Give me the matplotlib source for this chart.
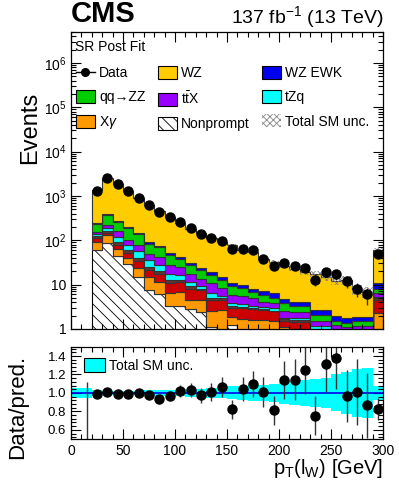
import numpy as np
import matplotlib
matplotlib.use('Agg')
import matplotlib.pyplot as plt
from matplotlib.lines import Line2D
from matplotlib.patches import Patch
from matplotlib.ticker import MultipleLocator, LogLocator, FuncFormatter, NullFormatter, FixedLocator

plt.rcParams['font.family'] = ['Liberation Sans', 'DejaVu Sans']
plt.rcParams['mathtext.fontset'] = 'custom'
plt.rcParams['mathtext.rm'] = 'Liberation Sans'
plt.rcParams['mathtext.it'] = 'Liberation Sans:italic'
plt.rcParams['mathtext.bf'] = 'Liberation Sans:bold'
plt.rcParams['hatch.linewidth'] = 0.6

# bins of pT(l_W), 10 GeV wide, last bin includes overflow
edges = np.arange(20, 310, 10)
band_edges = np.arange(0, 310, 10)
centers = edges[:-1] + 5

data = [1309, 2510, 1850, 1260, 898, 612, 427, 330, 255, 187, 140, 114, 96, 64,
        64, 61, 38, 26, 30, 26, 24, 13, 19, 17, 12, 8, 6, 50]

nonprompt = [61, 86, 44, 28.7, 14.9, 7.7, 6.0, 3.3, 3.3, 2.76, 2.4, 1.1, 0.5, 1.23,
             0.3, 0.3, 0.3, 0.2, 0.2, 0.1, 0.1, 0.1, 0.1, 0.05, 0.05, 0.05, 0.05, 0.3]
xgamma = [30, 42, 20, 11.3, 9.1, 7.2, 5.5, 3.2, 3.6, 1.84, 2.07, 1.4, 2.17, 0.67,
          1.35, 1.32, 1.29, 1.34, 0.9, 0.8, 0.8, 0.4, 0.4, 0.35, 0.25, 0.3, 0.3, 2.0]
other = [19, 17, 15, 12, 10, 6.9, 6.2, 4.5, 4.6, 3.5, 3.0, 2.1, 1.73, 1.0,
         1.25, 1.18, 1.08, 0.96, 0.4, 0.56, 0.56, 0.4, 0.4, 0.3, 0.3, 0.3, 0.3, 2.3]
other2 = [12, 15, 12, 7, 6, 3.2, 2.3, 1.6, 1.1, 1.1, 0.4, 0.5, 0.5, 0.4,
          0.2, 0.2, 0.13, 0.1, 0.15, 0.14, 0.14, 0.1, 0.1, 0.1, 0.1, 0.1, 0.1, 0.3]
tzq = [18, 30, 27, 20, 17, 10, 8, 4.5, 3.7, 2.3, 1.3, 1.5, 0.6, 0.46,
       0.5, 0.3, 0.26, 0.3, 0.15, 0.17, 0.17, 0.15, 0.15, 0.1, 0.1, 0.1, 0.1, 0.4]
ttx = [17, 36, 42, 23, 22, 15, 14, 9.9, 8.7, 5.6, 4.5, 4.0, 2.7, 2.04,
       1.9, 1.8, 1.04, 1.0, 0.7, 0.63, 0.63, 0.39, 0.39, 0.33, 0.29, 0.34, 0.32, 1.0]
zz = [77, 153, 95, 88, 56, 33, 28, 18.6, 12.8, 10.1, 7.3, 5.9, 4.3, 3.4,
      2.7, 1.7, 1.7, 1.1, 1.3, 0.85, 0.85, 0.52, 0.52, 0.31, 0.25, 0.35, 0.37, 1.5]
wzewk = [17, 19, 14, 14, 10, 8, 6, 5.0, 4.0, 3.5, 3.0, 3.0, 2.1, 1.4,
         1.5, 1.2, 1.3, 1.3, 0.9, 0.75, 0.75, 0.61, 0.61, 0.46, 0.4, 0.29, 0.29, 3.1]
wz = [1078, 2087, 1600, 1069, 753, 533, 383, 289, 208, 151, 120, 93.5, 75.4, 67.1,
      51.7, 47.6, 30.6, 25.7, 21.6, 18.7, 15.3, 14.6, 11.8, 10.3, 10.7, 6.1, 5.1, 49.8]

# relative total SM uncertainty per bin, 0-300 GeV
unc_rel = [0.05, 0.05, 0.03, 0.025, 0.025, 0.025, 0.025, 0.03, 0.03, 0.03,
           0.035, 0.04, 0.045, 0.05, 0.055, 0.07, 0.08, 0.09, 0.09, 0.10,
           0.12, 0.13, 0.14, 0.15, 0.16, 0.20, 0.23, 0.26, 0.27, 0.08]
lowbin_err_up = 1.12  # ratio error bar of the empty 10-20 GeV bin
ratio_ticks = [0.6, 0.8, 1.0, 1.2, 1.4]

stack = [
    (nonprompt, 'white', 'Nonprompt'),
    (xgamma, '#ff9900', r'X$\gamma$'),
    (other, '#cc0000', None),
    (other2, '#663333', None),
    (tzq, '#00ffff', 'tZq'),
    (ttx, '#9900ff', r't$\bar{\mathrm{t}}$X'),
    (zz, '#00cc00', 'qq\u2192ZZ'),
    (wzewk, '#0000ee', 'WZ EWK'),
    (wz, '#ffcc00', 'WZ'),
]

fig = plt.figure(figsize=(3.99, 4.83), dpi=100)
ax = fig.add_axes([0.178, 0.319, 0.782, 0.615])
rax = fig.add_axes([0.178, 0.091, 0.782, 0.191])

bottom = np.zeros(len(centers))
for vals, col, lab in stack:
    top = bottom + np.array(vals)
    if lab == 'Nonprompt':
        ax.stairs(top, edges, baseline=bottom, fill=True, facecolor='white',
                  edgecolor='black', hatch='\\\\\\', linewidth=0.8)
    else:
        ax.stairs(top, edges, baseline=bottom, fill=True, facecolor=col,
                  edgecolor='#333333', linewidth=0.8)
    bottom = top
total = bottom
data = np.array(data, dtype=float)

u = np.array(unc_rel[2:])
ax.stairs(total * (1 + u), edges, baseline=total * (1 - u), fill=True,
          facecolor='none', edgecolor='#888888', hatch='xxxxx', linewidth=0)

ax.errorbar(centers, data, yerr=np.sqrt(data), fmt='o', color='black',
            markersize=6.5, elinewidth=1, ecolor='#333333', capsize=0)

ax.set_yscale('log')
ax.set_xlim(0, 300)
ax.set_ylim(1, 5e6)
ax.xaxis.set_major_locator(MultipleLocator(50))
ax.xaxis.set_minor_locator(MultipleLocator(10))
ax.xaxis.set_major_formatter(NullFormatter())
ax.yaxis.set_major_locator(LogLocator(base=10, numticks=10))
ax.yaxis.set_minor_locator(LogLocator(base=10, subs=np.arange(2, 10), numticks=20))
ax.yaxis.set_minor_formatter(NullFormatter())


def logfmt(v, pos):
    n = int(round(np.log10(v)))
    if n == 0:
        return '1'
    if n == 1:
        return '10'
    return r'$10^{%d}$' % n


ax.yaxis.set_major_formatter(FuncFormatter(logfmt))

for a in (ax, rax):
    a.tick_params(which='both', direction='in', top=True, right=True, labelsize=10)
    a.tick_params(which='major', length=7, width=0.8)
    a.tick_params(which='minor', length=3.5, width=0.8)
    for s in a.spines.values():
        s.set_linewidth(0.9)

ax.text(0.013, 0.95, 'SR Post Fit', transform=ax.transAxes, fontsize=10, va='center')

h_data = Line2D([], [], color='black', marker='o', markersize=5.5, linestyle='-', lw=1)
h = {lab: Patch(facecolor=col, edgecolor='black', lw=0.8) for vals, col, lab in stack if lab}
h['Nonprompt'] = Patch(facecolor='white', edgecolor='black', hatch='\\\\\\', lw=0.8)
h_unc = Patch(facecolor='white', edgecolor='#888888', hatch='xxxxx', lw=0)
handles = [h_data, h['qq\u2192ZZ'], h[r'X$\gamma$'],
           h['WZ'], h[r't$\bar{\mathrm{t}}$X'], h['Nonprompt'],
           h['WZ EWK'], h['tZq'], h_unc]
labels = ['Data', 'qq\u2192ZZ', r'X$\gamma$', 'WZ', r't$\bar{\mathrm{t}}$X', 'Nonprompt',
          'WZ EWK', 'tZq', 'Total SM unc.']
ax.legend(handles, labels, ncol=3, loc='upper left', bbox_to_anchor=(0.016, 0.885),
          frameon=False, fontsize=10, handlelength=1.35, handleheight=1.05,
          handletextpad=0.3, columnspacing=0.9, labelspacing=0.72, borderpad=0,
          borderaxespad=0)

# ratio panel
ratio = data / total
ratio_err = np.sqrt(data) / total
ub = np.array(unc_rel)
rax.stairs(1 + ub, band_edges, baseline=1 - ub, fill=True, color='#00ffff', lw=0)
rax.axhline(1.0, color='#0000ee', lw=1.2)
rax.errorbar(centers, ratio, yerr=ratio_err, fmt='o', color='black', markersize=6.5,
             elinewidth=1, ecolor='#333333', capsize=0)
rax.vlines(15, 0.5, lowbin_err_up, color='#333333', lw=1)
rax.set_xlim(0, 300)
rax.set_ylim(0.5, 1.5)
rax.xaxis.set_major_locator(MultipleLocator(50))
rax.xaxis.set_minor_locator(MultipleLocator(10))
rax.yaxis.set_major_locator(FixedLocator(ratio_ticks))
rax.yaxis.set_minor_locator(MultipleLocator(0.04))
rax.yaxis.set_major_formatter(FuncFormatter(lambda v, p: '%.1f' % v))
rax.tick_params(axis='y', which='major', labelsize=9.5)
rax.legend([Patch(facecolor='#00ffff', edgecolor='black', lw=0.8)], ['Total SM unc.'],
           loc='upper left', bbox_to_anchor=(0.042, 0.88), frameon=False, fontsize=10,
           handlelength=1.5, handleheight=1.2, handletextpad=0.3, borderpad=0,
           borderaxespad=0)

fig.text(0.178, 0.954, 'CMS', fontsize=21, fontweight='bold', va='baseline', ha='left')
fig.text(0.960, 0.952, r'137 fb$^{\mathrm{-1}}$ (13 TeV)', fontsize=14, va='baseline', ha='right')
fig.text(0.075, 0.735, 'Events', fontsize=17, rotation=90, ha='center', va='center')
fig.text(0.045, 0.158, 'Data/pred.', fontsize=16, rotation=90, ha='center', va='center')
fig.text(0.960, 0.018, r'p$_{\mathrm{T}}$(l$_{\mathrm{W}}$) [GeV]', fontsize=14.5,
         ha='right', va='baseline')

fig.savefig('out.png', dpi=100)
